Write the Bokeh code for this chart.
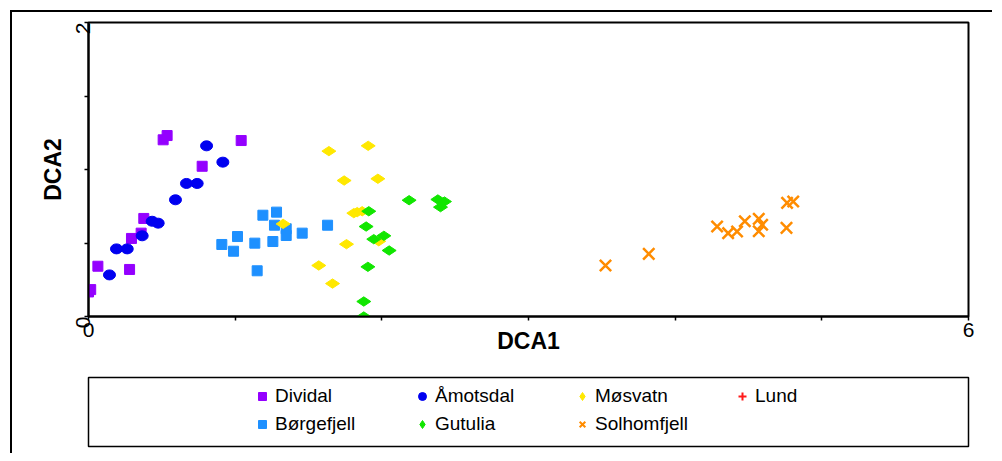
import math
from bokeh.plotting import figure
from bokeh.models import Range1d, FixedTicker, Legend, LegendItem
from bokeh.layouts import column
from bokeh.embed import file_html
from bokeh.resources import INLINE

# ---- data ----
dividal_x = [0.509, 0.536, 1.041, 0.775, 0.377, 0.359, 0.293, 0.064, 0.280, 0.000, 0.015]
dividal_y = [1.202, 1.231, 1.197, 1.022, 0.667, 0.567, 0.531, 0.342, 0.320, 0.167, 0.183]

amotsdal_x = [0.805, 0.916, 0.668, 0.741, 0.593, 0.434, 0.475, 0.366, 0.191, 0.264, 0.143]
amotsdal_y = [1.161, 1.050, 0.905, 0.905, 0.794, 0.648, 0.635, 0.549, 0.460, 0.460, 0.283]

borgefjell_x = [1.189, 1.282, 1.268, 1.348, 1.348, 1.457, 1.630, 1.016, 0.909, 0.989, 1.134, 1.257, 1.150]
borgefjell_y = [0.689, 0.710, 0.621, 0.597, 0.551, 0.567, 0.621, 0.544, 0.490, 0.444, 0.499, 0.510, 0.311]

mosvatn_x = [1.639, 1.907, 1.743, 1.973, 1.809, 1.832, 1.866, 1.979, 1.759, 1.570, 1.664, 1.327]
mosvatn_y = [1.125, 1.161, 0.925, 0.937, 0.703, 0.710, 0.716, 0.512, 0.492, 0.347, 0.224, 0.630]

gutulia_x = [1.911, 1.893, 1.945, 2.014, 2.050, 1.905, 1.877, 1.877, 2.186, 2.382, 2.427, 2.400]
gutulia_y = [0.716, 0.612, 0.526, 0.549, 0.449, 0.338, 0.102, 0.000, 0.791, 0.796, 0.782, 0.744]

solhomfjell_x = [3.525, 3.820, 4.286, 4.361, 4.422, 4.475, 4.570, 4.593, 4.570, 4.759, 4.763, 4.805]
solhomfjell_y = [0.347, 0.426, 0.612, 0.567, 0.578, 0.648, 0.664, 0.624, 0.580, 0.603, 0.773, 0.782]

lund_x = []
lund_y = []

x_ticks = [0, 1, 2, 3, 4, 5, 6]
x_labels = {0: "0", 6: "6"}
y_ticks = [0, 0.5, 1, 1.5, 2]
y_labels = {0: "0", 2: "2"}

C_DIV = "#9400ff"
C_AMO = "#0000f0"
C_BOR = "#1e90ff"
C_MOS = "#ffe800"
C_GUT = "#11e600"
C_SOL = "#ff8c00"
C_LUN = "#ff1a1a"

FONT = "Liberation Sans"

# ---- main plot ----
p = figure(width=980, height=353, x_range=Range1d(0, 6), y_range=Range1d(0, 2),
           output_backend="svg", toolbar_location=None,
           min_border_left=76, min_border_right=24, min_border_top=10, min_border_bottom=49)
p.grid.visible = False
p.outline_line_color = "black"
p.outline_line_width = 2
p.background_fill_color = "white"
p.border_fill_color = "white"

p.xaxis.ticker = FixedTicker(ticks=x_ticks)
p.xaxis.major_label_overrides = {t: x_labels.get(t, "") for t in x_ticks}
p.yaxis.ticker = FixedTicker(ticks=y_ticks)
p.yaxis.major_label_overrides = {t: y_labels.get(t, "") for t in y_ticks}
p.yaxis.major_label_orientation = math.pi / 2

for ax in (p.xaxis[0], p.yaxis[0]):
    ax.axis_line_color = "black"
    ax.axis_line_width = 2
    ax.major_tick_in = 0
    ax.major_tick_out = 4
    ax.major_tick_line_color = "black"
    ax.major_tick_line_width = 1.5
    ax.minor_tick_line_color = None
    ax.major_label_text_font = FONT
    ax.major_label_text_font_size = "21px"
    ax.major_label_text_color = "black"
    ax.major_label_standoff = 2
    ax.axis_label_text_font = FONT
    ax.axis_label_text_font_size = "23px"
    ax.axis_label_text_font_style = "bold"
    ax.axis_label_text_color = "black"

p.xaxis.axis_label = "DCA1"
p.yaxis.axis_label = "DCA2"
p.xaxis.axis_label_standoff = -12
p.yaxis.axis_label_standoff = 0

p.scatter(dividal_x, dividal_y, marker="square", size=10, color=C_DIV)
p.ellipse(amotsdal_x, amotsdal_y, width=12, height=10, width_units="screen",
          height_units="screen", color=C_AMO)
p.scatter(borgefjell_x, borgefjell_y, marker="square", size=10, color=C_BOR)
p.scatter(mosvatn_x, mosvatn_y, marker="diamond", size=14, angle=math.pi / 2, color=C_MOS)
p.scatter(gutulia_x, gutulia_y, marker="diamond", size=14, angle=math.pi / 2, color=C_GUT)
p.scatter(solhomfjell_x, solhomfjell_y, marker="x", size=16, line_width=2.5, color=C_SOL)
p.scatter(lund_x, lund_y, marker="cross", size=16, line_width=2.5, color=C_LUN)

# ---- legend panel (key swatches only; points lie outside the visible range) ----
p2 = figure(width=980, height=88, x_range=Range1d(0, 1), y_range=Range1d(0, 1),
            output_backend="svg", toolbar_location=None,
            x_axis_type=None, y_axis_type=None,
            min_border_left=76, min_border_right=16, min_border_top=12, min_border_bottom=7)
p2.grid.visible = False
p2.outline_line_color = "black"
p2.outline_line_width = 1.5

off = [-10]
r_div = p2.scatter(off, off, marker="square", size=8, color=C_DIV)
r_bor = p2.scatter(off, off, marker="square", size=8, color=C_BOR)
r_amo = p2.scatter(off, off, marker="circle", size=8, color=C_AMO)
r_gut = p2.scatter(off, off, marker="diamond", size=8, color=C_GUT)
r_mos = p2.scatter(off, off, marker="diamond", size=8, color=C_MOS)
r_sol = p2.scatter(off, off, marker="x", size=8, line_width=2, color=C_SOL)
r_lun = p2.scatter(off, off, marker="cross", size=8, line_width=2, color=C_LUN)

legend = Legend(items=[
    LegendItem(label="Dividal", renderers=[r_div]),
    LegendItem(label="Børgefjell", renderers=[r_bor]),
    LegendItem(label="Åmotsdal", renderers=[r_amo]),
    LegendItem(label="Gutulia", renderers=[r_gut]),
    LegendItem(label="Møsvatn", renderers=[r_mos]),
    LegendItem(label="Solhomfjell", renderers=[r_sol]),
    LegendItem(label="Lund", renderers=[r_lun]),
], location=(164, 11), orientation="vertical", nrows=2)
legend.glyph_width = 20
legend.glyph_height = 20
legend.label_standoff = 3
legend.label_width = 131
legend.label_height = 20
legend.spacing = 6
legend.padding = 0
legend.margin = 0
legend.border_line_alpha = 0
legend.background_fill_alpha = 0
legend.label_text_font = FONT
legend.label_text_font_size = "19px"
legend.label_text_color = "black"
legend.label_text_baseline = "middle"
p2.add_layout(legend, "center")

layout = column(p, p2, spacing=0,
                styles={"border-left": "2px solid black", "border-top": "2px solid black",
                        "margin-left": "10px", "margin-top": "10px"})

open("out.html", "w").write(file_html(layout, INLINE))
